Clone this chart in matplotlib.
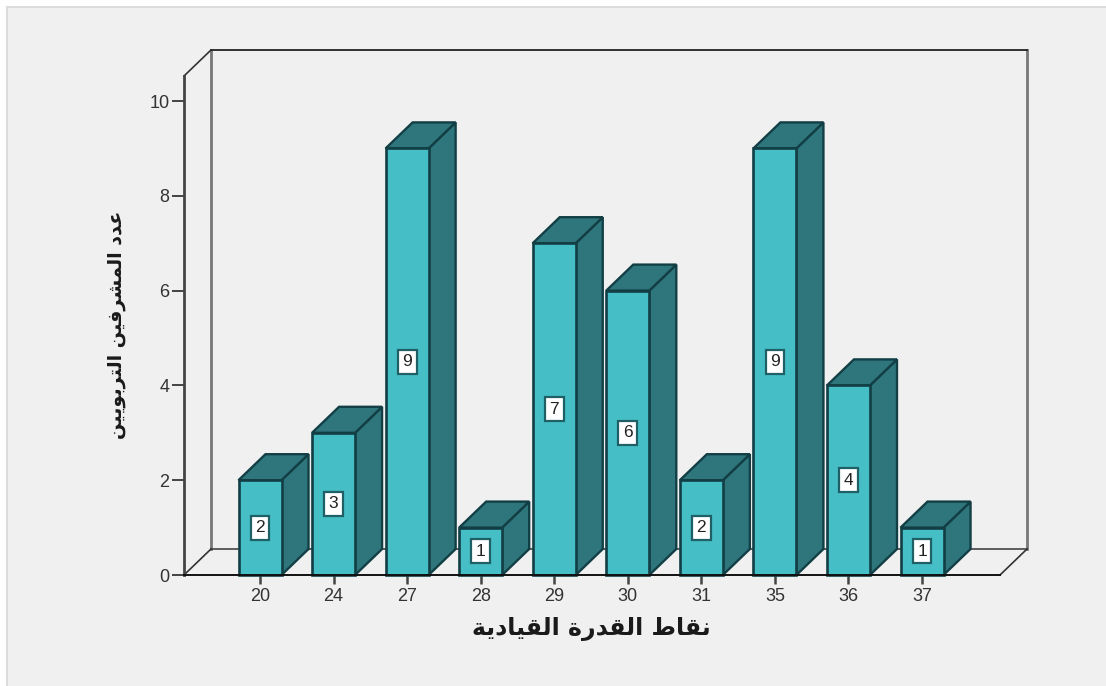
import matplotlib
matplotlib.use("Agg")
import matplotlib.pyplot as plt
from matplotlib.patches import Polygon, Rectangle

scores = ["20", "24", "27", "28", "29", "30", "31", "35", "36", "37"]
counts = [2, 3, 9, 1, 7, 6, 2, 9, 4, 1]
y_ticks = [0, 2, 4, 6, 8, 10]
x_title = "نقاط القدرة القيادية"
y_title = "عدد المشرفين التربويين"

# isolated, final, initial, medial presentation forms
forms = {
    "ا": (0xFE8D, 0xFE8E), "ب": (0xFE8F, 0xFE90, 0xFE91, 0xFE92),
    "ة": (0xFE93, 0xFE94), "ت": (0xFE95, 0xFE96, 0xFE97, 0xFE98),
    "د": (0xFEA9, 0xFEAA), "ر": (0xFEAD, 0xFEAE),
    "ش": (0xFEB5, 0xFEB6, 0xFEB7, 0xFEB8), "ط": (0xFEC1, 0xFEC2, 0xFEC3, 0xFEC4),
    "ع": (0xFEC9, 0xFECA, 0xFECB, 0xFECC), "ف": (0xFED1, 0xFED2, 0xFED3, 0xFED4),
    "ق": (0xFED5, 0xFED6, 0xFED7, 0xFED8), "ل": (0xFEDD, 0xFEDE, 0xFEDF, 0xFEE0),
    "م": (0xFEE1, 0xFEE2, 0xFEE3, 0xFEE4), "ن": (0xFEE5, 0xFEE6, 0xFEE7, 0xFEE8),
    "و": (0xFEED, 0xFEEE), "ي": (0xFEF1, 0xFEF2, 0xFEF3, 0xFEF4),
}


def shape_arabic(text):
    # matplotlib has no shaping or bidi, so join the letters by hand and reverse them
    out = []
    for i, ch in enumerate(text):
        if ch not in forms:
            out.append(ch)
            continue
        prev = text[i - 1] if i > 0 else " "
        nxt = text[i + 1] if i < len(text) - 1 else " "
        joins_prev = prev in forms and len(forms[prev]) == 4
        joins_next = nxt in forms and len(forms[ch]) == 4
        if joins_prev and joins_next:
            idx = 3
        elif joins_next:
            idx = 2
        elif joins_prev:
            idx = 1
        else:
            idx = 0
        out.append(chr(forms[ch][idx]))
    return "".join(reversed(out))


W, H = 1106, 686
fig = plt.figure(figsize=(W / 100, H / 100), dpi=100, facecolor="white")
# grey panel behind the chart, it bleeds off the right and bottom edges
fig.add_artist(Rectangle((7 / W, -0.02), 1.05, 1.02 - 6.5 / H, transform=fig.transFigure,
                         facecolor="#f0f0f0", edgecolor="#dcdcdc", lw=1.5, zorder=-5))

# axes box runs from the front left corner to the front right corner of the floor
ax = fig.add_axes([184 / W, 1 - 575 / H, (1000 - 184) / W, (575 - 76) / H])
ax.patch.set_visible(False)
unit_x = 73.56
unit_y = 47.4
ax.set_xlim((184 - 260) / unit_x, (1000 - 260) / unit_x)
ax.set_ylim(0, 499 / unit_y)

dx = 27 / unit_x
dy = 26 / unit_y
bar_w = 43 / unit_x
xmin, xmax = ax.get_xlim()
ymax = ax.get_ylim()[1]

front = "#45bfc5"
shade = "#2f767c"
edge = "#123f45"

# back walls and floor
ax.plot([xmin + dx, xmin + dx], [dy, ymax + dy], color="#777777", lw=2.0, clip_on=False, zorder=1)
ax.plot([xmax + dx, xmax + dx], [dy, ymax + dy], color="#777777", lw=2.0, clip_on=False, zorder=1)
ax.plot([xmin + dx, xmax + dx], [dy, dy], color="#444444", lw=1.2, clip_on=False, zorder=1)
ax.plot([xmin + dx, xmax + dx], [ymax + dy, ymax + dy], color="#222222", lw=1.3, clip_on=False, zorder=1)
ax.plot([xmin, xmin + dx], [ymax, ymax + dy], color="#333333", lw=1.2, clip_on=False, zorder=1)
ax.plot([xmin, xmin + dx], [0, dy], color="#333333", lw=1.2, clip_on=False, zorder=1)
ax.plot([xmax, xmax + dx], [0, dy], color="#333333", lw=1.2, clip_on=False, zorder=1)

for i, val in enumerate(counts):
    left = i - bar_w / 2
    right = i + bar_w / 2
    ax.add_patch(Polygon([(right, 0), (right + dx, dy), (right + dx, val + dy), (right, val)],
                         facecolor=shade, edgecolor=edge, lw=1.7, clip_on=False, zorder=2))
    ax.add_patch(Polygon([(left, val), (left + dx, val + dy), (right + dx, val + dy), (right, val)],
                         facecolor=shade, edgecolor=edge, lw=1.7, clip_on=False, zorder=2))
    ax.add_patch(Rectangle((left, 0), bar_w, val, facecolor=front, edgecolor=edge,
                           lw=1.9, clip_on=False, zorder=3))
    ax.text(i, val / 2, str(val), ha="center", va="center", fontsize=12.5, color="#222222",
            family="Liberation Sans", zorder=4,
            bbox=dict(boxstyle="square,pad=0.26", facecolor="white", edgecolor="#1f5f66", lw=1.6))

for side in ["top", "right"]:
    ax.spines[side].set_visible(False)
ax.spines["left"].set_color("#444444")
ax.spines["left"].set_linewidth(2.0)
ax.spines["bottom"].set_color("#111111")
ax.spines["bottom"].set_linewidth(1.4)
ax.spines["bottom"].set_zorder(5)

ax.set_xticks(range(len(scores)))
ax.set_xticklabels(scores)
ax.set_yticks(y_ticks)
ax.tick_params(axis="x", length=6.5, width=1.8, color="#444444", labelsize=13,
               labelcolor="#333333", pad=3)
ax.tick_params(axis="y", length=8.5, width=1.4, color="#444444", labelsize=13,
               labelcolor="#333333", pad=2)
for lab in ax.get_xticklabels() + ax.get_yticklabels():
    lab.set_family("Liberation Sans")

fig.text(591 / W, 1 - 629 / H, shape_arabic(x_title), ha="center", va="center",
         fontsize=17, fontweight="bold", color="#1a1a1a", family="DejaVu Sans")
fig.text(117 / W, 1 - 325 / H, shape_arabic(y_title), ha="center", va="center", rotation=90,
         fontsize=13.8, fontweight="bold", color="#1a1a1a", family="DejaVu Sans")

fig.savefig("out.png", dpi=100)
